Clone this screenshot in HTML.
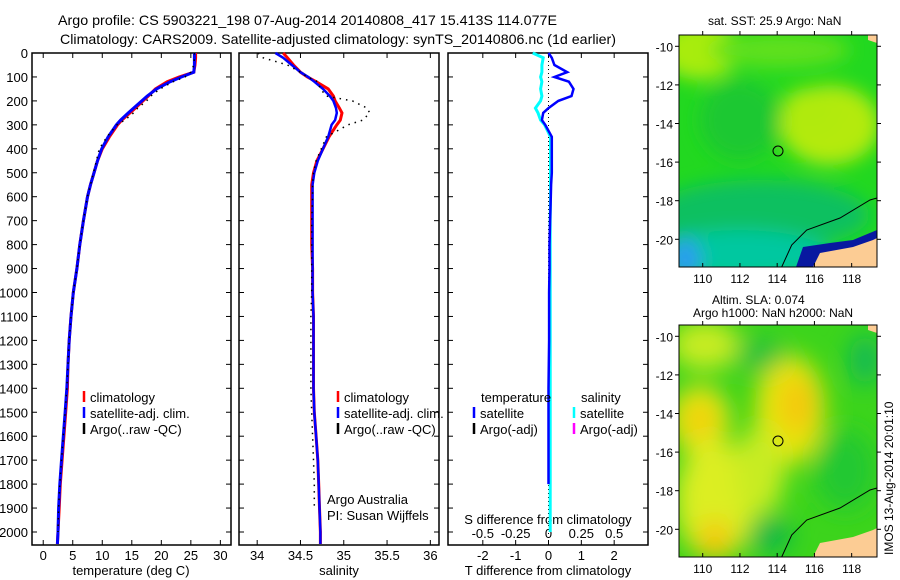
<!DOCTYPE html>
<html><head><meta charset="utf-8"><style>
body{margin:0;background:#fff}
svg{display:block}
text{font-family:"Liberation Sans",sans-serif;font-size:13px;fill:#000}
</style></head><body>
<svg id="fig" width="900" height="580" viewBox="0 0 900 580" xmlns="http://www.w3.org/2000/svg">
<defs>
<filter id="blur1" x="-20%" y="-20%" width="140%" height="140%"><feGaussianBlur stdDeviation="9"/></filter>
<filter id="blur2" x="-20%" y="-20%" width="140%" height="140%"><feGaussianBlur stdDeviation="12"/></filter>
<clipPath id="c1"><rect x="679" y="35" width="198" height="232"/></clipPath>
<clipPath id="c2"><rect x="679" y="325" width="198" height="232"/></clipPath>
</defs>
<text x="58" y="25" textLength="499" lengthAdjust="spacingAndGlyphs" style="font-size:14px">Argo profile: CS 5903221_198 07-Aug-2014 20140808_417 15.413S 114.077E</text>
<text x="60" y="44" textLength="556" lengthAdjust="spacingAndGlyphs" style="font-size:14px">Climatology: CARS2009. Satellite-adjusted climatology: synTS_20140806.nc (1d earlier)</text>
<g id="panels"></g>
<g id="maps">
 <g clip-path="url(#c1)">
  <rect x="679" y="35" width="198" height="232" fill="#22d820"/>
  <g filter="url(#blur1)">
   <ellipse cx="700" cy="50" rx="40" ry="30" fill="#a8ec10"/>
   <ellipse cx="780" cy="50" rx="70" ry="18" fill="#5ee01a"/>
   <ellipse cx="830" cy="125" rx="50" ry="40" fill="#b4ea08"/>
   <ellipse cx="810" cy="110" rx="28" ry="22" fill="#b0ea08"/>
   <ellipse cx="740" cy="120" rx="40" ry="40" fill="#1cc830"/>
   <ellipse cx="760" cy="215" rx="110" ry="35" fill="#0cc060"/>
   <ellipse cx="740" cy="255" rx="90" ry="25" fill="#06c8a0"/>
   <ellipse cx="685" cy="260" rx="16" ry="22" fill="#2a9cf0"/>
  </g>
  <polygon points="796,267 803,247 830,243 853,240 877,230 877,267" fill="#0818a0"/>
  <polygon points="813,267 820,253 853,247 873,240 877,238 877,267" fill="#fccc94"/>
  <polygon points="868,35 877,35 877,43 868,40" fill="#fccc94"/>
  <polyline points="781.7,267 791.7,245 806.7,230 840,218 870,200 877,198" fill="none" stroke="#000" stroke-width="1"/>
 </g>
 <rect x="679" y="35" width="198" height="232" fill="none" stroke="#000"/>
 <circle cx="778" cy="151" r="5" fill="none" stroke="#000"/>
 <text x="708" y="25" style="font-size:12px">sat. SST: 25.9 Argo: NaN</text>
 <g clip-path="url(#c2)">
  <rect x="679" y="325" width="198" height="232" fill="#3cd41c"/>
  <g filter="url(#blur2)">
   <ellipse cx="705" cy="345" rx="35" ry="25" fill="#c8ec20"/>
   <ellipse cx="790" cy="410" rx="35" ry="55" fill="#e8e410"/>
   <ellipse cx="798" cy="405" rx="18" ry="28" fill="#f4c808"/>
   <ellipse cx="700" cy="420" rx="30" ry="35" fill="#e8e418"/>
   <ellipse cx="700" cy="420" rx="14" ry="16" fill="#f2cc10"/>
   <ellipse cx="715" cy="500" rx="40" ry="60" fill="#dcee20"/>
   <ellipse cx="715" cy="540" rx="18" ry="20" fill="#f4c810"/>
   <ellipse cx="760" cy="470" rx="25" ry="45" fill="#c8ec20"/>
   <ellipse cx="760" cy="355" rx="25" ry="15" fill="#20c040"/>
   <ellipse cx="770" cy="535" rx="22" ry="18" fill="#10b848"/>
   <ellipse cx="865" cy="360" rx="15" ry="25" fill="#10b858"/>
   <ellipse cx="845" cy="470" rx="30" ry="40" fill="#20c830"/>
  </g>
  <polygon points="813,557 820,543 853,537 873,530 877,528 877,557" fill="#fccc94"/>
  <polygon points="868,325 877,325 877,333 868,330" fill="#fccc94"/>
  <polyline points="781.7,557 791.7,535 806.7,520 840,508 870,490 877,488" fill="none" stroke="#000"/>
 </g>
 <rect x="679" y="325" width="198" height="232" fill="none" stroke="#000"/>
 <circle cx="778" cy="441" r="5" fill="none" stroke="#000"/>
 <text x="712" y="304" style="font-size:12px">Altim. SLA: 0.074</text>
 <text x="693" y="317" style="font-size:12px">Argo h1000: NaN h2000: NaN</text>
 <g id="mapticks"></g>
 <text transform="translate(893,555) rotate(-90)" style="font-size:12px">IMOS 13-Aug-2014 20:01:10</text>
</g>
</svg>
<script>
const depths=[0,20,50,80,100,120,150,180,200,230,250,280,300,350,400,450,500,550,600,700,800,900,1000,1100,1200,1300,1400,1500,1600,1700,1800,1900,2000,2050];
const tempClim=[25.8,25.8,25.7,25.5,23.0,21.0,19.0,17.8,16.9,15.6,14.7,13.3,12.6,11.2,10.0,9.2,8.6,8.0,7.5,6.8,6.2,5.7,5.1,4.7,4.4,4.2,4.1,3.8,3.5,3.2,2.9,2.7,2.5,2.4];
const tempSat=[25.6,25.6,25.6,25.5,23.4,21.5,19.2,17.6,16.7,15.3,14.4,13.1,12.4,11.0,9.9,9.2,8.6,8.0,7.5,6.8,6.2,5.7,5.1,4.7,4.4,4.2,4.0,3.7,3.4,3.1,2.8,2.6,2.5,2.4];
const tempArgo=[25.6,25.6,25.5,25.0,24.0,22.0,19.8,18.2,17.5,16.0,15.3,13.8,12.5,10.8,9.5,9.0,8.5,8.0,7.5,6.8,6.2,5.7,5.1,4.7,4.4,4.2,4.0,3.7,3.4,3.1,2.8,2.6,2.5,null];
const salClim=[34.30,34.35,34.42,34.50,34.58,34.68,34.82,34.88,34.90,34.95,34.98,34.96,34.92,34.83,34.76,34.69,34.65,34.63,34.63,34.63,34.63,34.64,34.64,34.65,34.65,34.65,34.65,34.66,34.68,34.70,34.71,34.72,34.73,34.73];
const salSat=[34.21,34.30,34.40,34.50,34.59,34.66,34.76,34.84,34.88,34.91,34.92,34.90,34.86,34.82,34.76,34.70,34.66,34.64,34.64,34.64,34.64,34.64,34.64,34.65,34.65,34.65,34.65,34.66,34.68,34.70,34.71,34.72,34.73,34.73];
const salArgo=[34.01,34.07,34.35,34.50,34.58,34.70,34.73,34.80,35.10,35.27,35.30,35.22,35.05,34.80,34.74,34.68,34.65,34.64,34.64,34.63,34.63,34.63,34.63,34.62,34.62,34.62,34.62,34.63,34.64,34.65,34.66,34.66,null,null];
const tDiff=[0,0.1,0.18,0.57,0.18,0.62,0.76,0.7,0.3,0.0,-0.16,-0.2,-0.1,0.1,0.1,0.1,0.1,0.08,0.07,0.05,0.03,0.03,0.02,0.02,0.02,0.01,0,0,0,0,0,null,null,null];
const sDiff=[-0.12,-0.04,-0.05,-0.05,-0.06,-0.05,-0.06,-0.05,-0.06,-0.1,-0.08,-0.06,-0.03,0.015,0.015,0.015,0.015,0.015,0.015,0.013,0.013,0.013,0.013,0.013,0.013,0.013,0.013,0.013,0.013,0.013,0.013,0.013,0.013,null];
const depthTicks=[0,100,200,300,400,500,600,700,800,900,1000,1100,1200,1300,1400,1500,1600,1700,1800,1900,2000];
const tTicks=[0,5,10,15,20,25,30];
const sTicks=[34,34.5,35,35.5,36];
const sTickLabels=["34","34.5","35","35.5","36"];
const dTTicks=[-2,-1,0,1,2];
const dSTicks=[-0.5,-0.25,0,0.25,0.5];
const dSTickLabels=["-0.5","-0.25","0","0.25","0.5"];
const lonTicks=[110,112,114,116,118];
const latTicks=[-10,-12,-14,-16,-18,-20];

const NS="http://www.w3.org/2000/svg";
const top0=53, bot=545;
const yD=d=>top0+d*0.2395;
function mk(tag,attrs,parent){const e=document.createElementNS(NS,tag);for(const k in attrs)e.setAttribute(k,attrs[k]);parent.appendChild(e);return e;}
const G=document.getElementById('panels');
const panels=[
 {x0:32,x1:231,min:-1.9,max:31.8,name:'temperature-panel'},
 {x0:239,x1:439,min:33.79,max:36.1,name:'salinity-panel'},
 {x0:448,x1:648,min:-3.06,max:3.03,name:'difference-panel'}];
panels.forEach(p=>{p.sx=v=>p.x0+(v-p.min)/(p.max-p.min)*(p.x1-p.x0);});
function line(p,vals,scale,attrs,name){
  let d='';let pen=false;
  vals.forEach((v,i)=>{if(v===null){pen=false;return;}const x=p.sx(v*scale),y=yD(depths[i]);d+=(pen?'L':'M')+x.toFixed(1)+','+y.toFixed(1);pen=true;});
  const e=mk('path',Object.assign({d:d,fill:'none'},attrs),G);
  
  
}
panels.forEach((p,pi)=>{
  const r=mk('rect',{x:p.x0,y:top0,width:p.x1-p.x0,height:bot-top0,fill:'none',stroke:'#000','stroke-width':1.5},G);
  
  
  depthTicks.forEach(d=>{
    mk('line',{x1:p.x0,x2:p.x0+5,y1:yD(d),y2:yD(d),stroke:'#000'},G);
    mk('line',{x1:p.x1,x2:p.x1-5,y1:yD(d),y2:yD(d),stroke:'#000'},G);
    if(pi===0){const t=mk('text',{x:p.x0-4,y:yD(d)+5,'text-anchor':'end'},G);t.textContent=d;
      
      }
  });
});
function xt(p,vals,labels,y,topTicks){vals.forEach((v,i)=>{const x=p.sx(v);
  mk('line',{x1:x,x2:x,y1:bot,y2:bot-5,stroke:'#000'},G);
  if(topTicks) mk('line',{x1:x,x2:x,y1:top0,y2:top0+5,stroke:'#000'},G);
  const t=mk('text',{x:x,y:y,'text-anchor':'middle'},G);t.textContent=labels[i];
  
  });}
xt(panels[0],tTicks,tTicks.map(String),560,true);
xt(panels[1],sTicks,sTickLabels,560,true);
xt(panels[2],dTTicks,dTTicks.map(String),560,true);
dSTicks.forEach((v,i)=>{const t=mk('text',{x:panels[2].sx(v*4),y:538,'text-anchor':'middle'},G);t.textContent=dSTickLabels[i];
  
  });
function txt(x,y,s,name,anchor){const t=mk('text',{x:x,y:y,'text-anchor':anchor||'start'},G);t.textContent=s;
  
  return t;}
txt(131,575,'temperature (deg C)','temperature-axis-title','middle');
txt(339,575,'salinity','salinity-axis-title','middle');
txt(548,575,'T difference from climatology','t-diff-axis-title','middle');
txt(548,524,'S difference from climatology','s-diff-axis-title','middle');
const z=panels[2].sx(0);
const zl=mk('line',{x1:z,x2:z,y1:top0,y2:bot,stroke:'#000','stroke-dasharray':'1,3'},G);


line(panels[0],tempClim,1,{stroke:'#f00','stroke-width':3},'temp-climatology-line');
line(panels[0],tempSat,1,{stroke:'#00f','stroke-width':3},'temp-satellite-line');
line(panels[0],tempArgo,1,{stroke:'#000','stroke-width':1.5,'stroke-dasharray':'1.5,5'},'temp-argo-line');
line(panels[1],salClim,1,{stroke:'#f00','stroke-width':3},'sal-climatology-line');
line(panels[1],salSat,1,{stroke:'#00f','stroke-width':2.5},'sal-satellite-line');
line(panels[1],salArgo,1,{stroke:'#000','stroke-width':1.5,'stroke-dasharray':'1.5,5'},'sal-argo-line');
line(panels[2],sDiff,4,{stroke:'#0ff','stroke-width':3},'s-diff-satellite-line');
line(panels[2],tDiff,1,{stroke:'#00f','stroke-width':2.5},'t-diff-satellite-line');
function leg(x,y,col,label,name){const l=mk('line',{x1:x,x2:x,y1:y-11,y2:y,stroke:col,'stroke-width':2.5},G);
  
  
  txt(x+6,y,label,name);}
[[84,'#f00','climatology'],[84,'#00f','satellite-adj. clim.'],[84,'#000','Argo(..raw -QC)']].forEach((a,i)=>leg(a[0],402+i*16,a[1],a[2],'temp-legend-entry'));
[[338,'#f00','climatology'],[338,'#00f','satellite-adj. clim.'],[338,'#000','Argo(..raw -QC)']].forEach((a,i)=>leg(a[0],402+i*16,a[1],a[2],'sal-legend-entry'));
txt(481,402,'temperature','diff-legend-temperature-header');
txt(581,402,'salinity','diff-legend-salinity-header');
leg(474,418,'#00f','satellite','t-diff-legend-satellite');
leg(474,434,'#000','Argo(-adj)','t-diff-legend-argo');
leg(574,418,'#0ff','satellite','s-diff-legend-satellite');
leg(574,434,'#f0f','Argo(-adj)','s-diff-legend-argo');
txt(327,504,'Argo Australia','argo-australia-label');
txt(327,520,'PI: Susan Wijffels','pi-label');
const MT=document.getElementById('mapticks');
const lonX=l=>702.7+(l-110)*18.62;
[[35,267,46.3],[325,557,336.3]].forEach(([t,b,lat10])=>{
  const latY=l=>lat10+(-10-l)*19.3;
  lonTicks.forEach(l=>{const x=lonX(l);
    mk('line',{x1:x,x2:x,y1:b,y2:b-4,stroke:'#000'},MT);mk('line',{x1:x,x2:x,y1:t,y2:t-4,stroke:'#000'},MT);
    const e=mk('text',{x:x,y:b+16,'text-anchor':'middle','style':'font-size:12px'},MT);e.textContent=l;
    
    });
  latTicks.forEach(l=>{const y=latY(l);
    mk('line',{x1:679,x2:675,y1:y,y2:y,stroke:'#000'},MT);mk('line',{x1:877,x2:881,y1:y,y2:y,stroke:'#000'},MT);
    const e=mk('text',{x:673,y:y+5,'text-anchor':'end','style':'font-size:12px'},MT);e.textContent=l;
    
    });
});
</script>
</body></html>
